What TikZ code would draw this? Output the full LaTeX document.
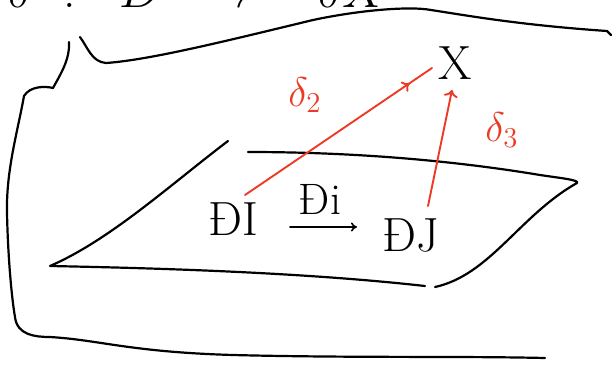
\documentclass[tikz,border=0pt]{standalone}
\usepackage{graphicx}
\usetikzlibrary{arrows.meta,decorations.markings}
\definecolor{pen}{RGB}{236,58,38}
\begin{document}
\begin{tikzpicture}[x=1pt,y=-1pt,
  ink/.style={line width=2.2pt,line cap=round,line join=round},
  redink/.style={draw=pen,line width=1.9pt,line cap=round},
  lab/.style={font=\fontsize{48}{48}\selectfont,inner sep=0pt},
  rlab/.style={text=pen,font=\fontsize{20}{20}\selectfont,inner sep=0pt}]
\useasboundingbox (0,0) rectangle (613,370);
% cut-off heading at the top
\node[font=\fontsize{24}{24}\selectfont,inner sep=0pt,anchor=base west] (head) at (8,7)
  {\scalebox{2}{$\delta\hspace{9pt}:\hspace{15pt}D\hspace{14pt}\to\hspace{26pt}\delta X$}};
% outer outline
\draw[ink] (80,37) .. controls (88,48) and (92,62) .. (106,63)
  .. controls (150,60) and (230,40) .. (313,20)
  .. controls (360,10) and (410,6) .. (431,10)
  .. controls (470,16) and (520,25) .. (607,31) -- (611,35);
\draw[ink] (69,42) .. controls (70,60) and (60,75) .. (53,88)
  .. controls (45,86) and (30,86) .. (24,96)
  .. controls (18,130) and (6,170) .. (7,213)
  .. controls (8,260) and (12,300) .. (15,317)
  .. controls (17,335) and (35,337) .. (50,337)
  .. controls (100,340) and (130,352) .. (233,355)
  .. controls (350,358) and (460,356) .. (545,358);
% plane
\draw[ink] (228,141) .. controls (170,185) and (110,240) .. (50,266)
  .. controls (150,268) and (300,272) .. (425,286);
\draw[ink] (435,287) .. controls (490,275) and (520,215) .. (577,183)
  .. controls (580,180) and (560,178) .. (540,175)
  .. controls (450,160) and (350,152) .. (248,152);
% nodes
\node[lab] (DI) at (233,219) {ĐI};
\node[lab] (DJ) at (411,235) {ĐJ};
\node[lab] (X) at (455,63) {X};
\coordinate (a1) at (290,227);
\coordinate (a2) at (357,227);
\draw[ink,line width=1.6pt,-{To[length=6pt,width=9pt]}] (a1) -- (a2);
\node[lab,font=\fontsize{44}{44}\selectfont] (Di) at (320,199) {Đi};
% red arrows
\coordinate (r1s) at (245,195);
\coordinate (r1e) at (432,68);
\draw[redink,postaction={decorate},decoration={markings,
  mark=at position 0.88 with {\arrow[pen,line width=1.9pt]{To[length=7pt,width=12pt]}}}] (r1s) -- (r1e);
\coordinate (r2s) at (428,206);
\coordinate (r2e) at (452,90);
\draw[redink,-{To[length=7pt,width=14pt]}] (r2s) -- (r2e);
\node[rlab] (d2) at (305,95) {\scalebox{2}{$\delta_2$}};
\node[rlab] (d3) at (502,130) {\scalebox{2}{$\delta_3$}};
\end{tikzpicture}
\end{document}
